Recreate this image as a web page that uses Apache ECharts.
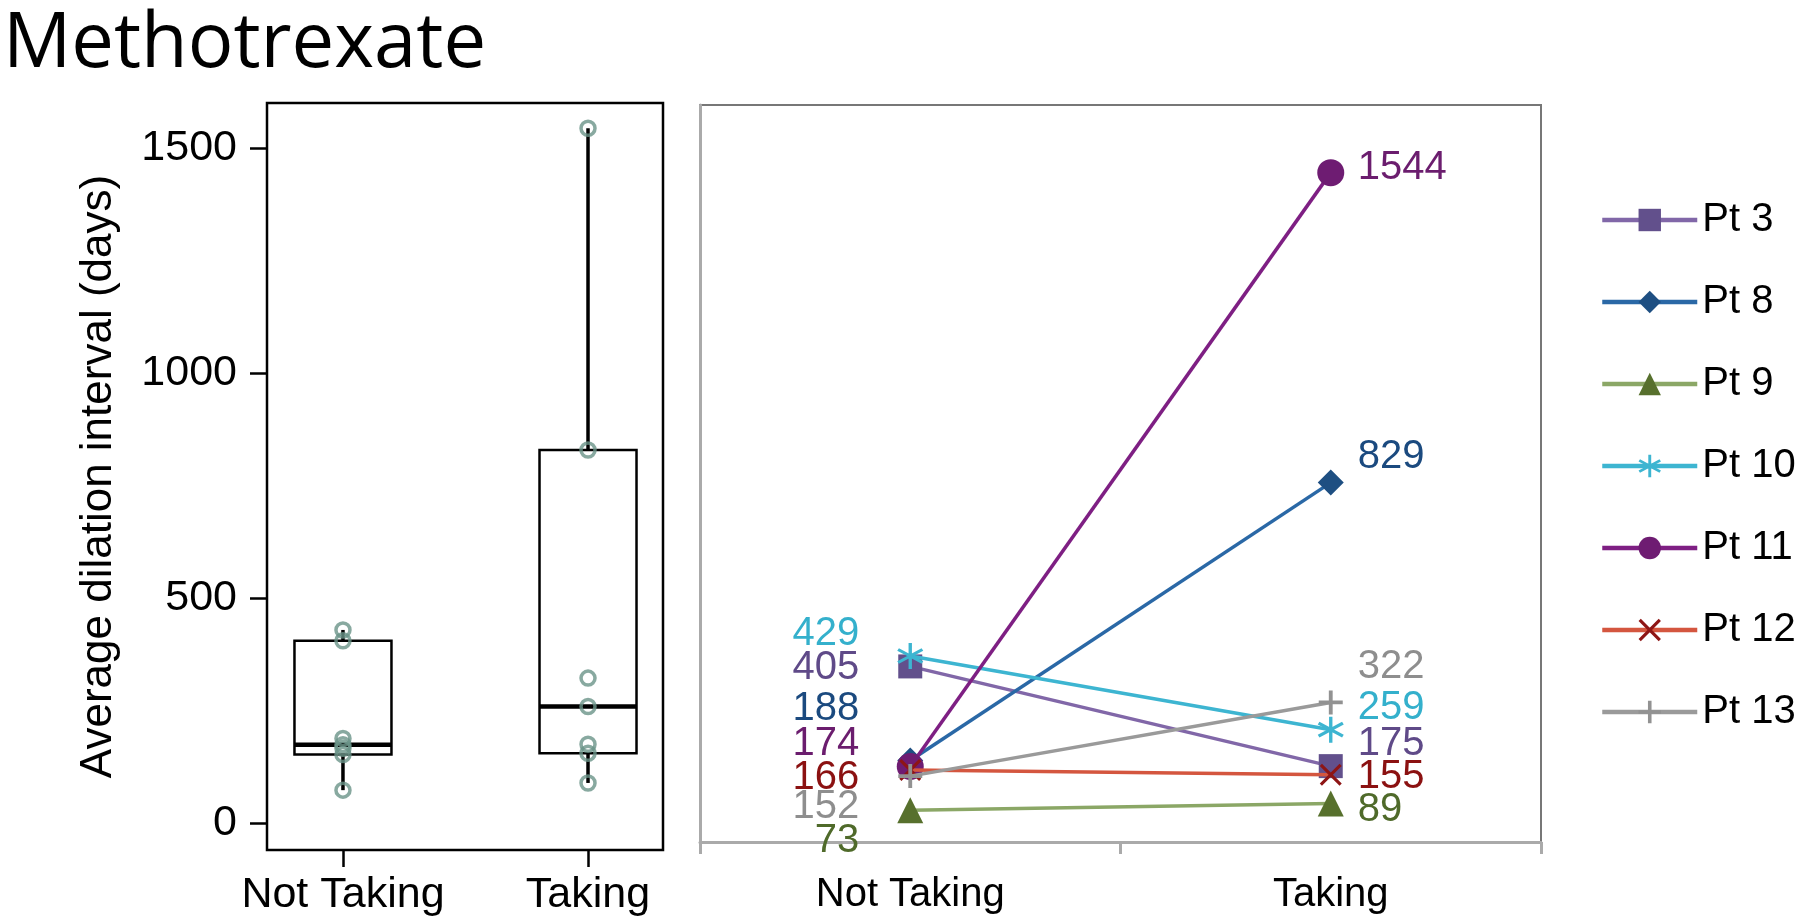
<!DOCTYPE html>
<html>
<head>
<meta charset="utf-8">
<script src="https://cdn.jsdelivr.net/npm/echarts@6/dist/echarts.min.js"></script>
<style>
html,body{margin:0;padding:0;background:#fff;}
#chart{width:1800px;height:924px;}
</style>
</head>
<body>
<div id="chart"></div>
<script>
// ---------- data ----------
const chartTitle = 'Methotrexate';
const categories = ['Not Taking', 'Taking'];
const patients = ['Pt 3', 'Pt 8', 'Pt 9', 'Pt 10', 'Pt 11', 'Pt 12', 'Pt 13'];
const notTakingValues = [405, 188, 73, 429, 174, 166, 152];
const takingValues = [175, 829, 89, 259, 1544, 155, 322];
// box plot summary (per category)
const boxMin = [73, 89];
const boxQ1 = [152, 155];
const boxMedian = [174, 259];
const boxQ3 = [405, 829];
const boxMax = [429, 1544];
const leftTickValues = [0, 500, 1000, 1500];
const yAxisTitle = 'Average dilation interval (days)';

// ---------- styles ----------
const lineColors = ['#8167a8', '#2a68a6', '#8ba766', '#3db5d1', '#7e1f83', '#d4563f', '#9a9a9a'];
const markerColors = ['#62508c', '#1e4f82', '#57702d', '#3db5d1', '#6e1c72', '#8e1515', '#929292'];
const labelColors = ['#5f4a88', '#1b4a7f', '#4f6a2a', '#34b0cc', '#6b1d6e', '#8b1111', '#8e8e8e'];
const pathX = 'path://M10,0 L50,40 L90,0 L100,10 L60,50 L100,90 L90,100 L50,60 L10,100 L0,90 L40,50 L0,10 Z';
const pathPlus = 'path://M42,0 L58,0 L58,42 L100,42 L100,58 L58,58 L58,100 L42,100 L42,58 L0,58 L0,42 L42,42 Z';
const pathStar = 'path://M44,100 L56,100 L56,0 L44,0 Z M90.3,80.2 L96.3,69.8 L9.7,19.8 L3.7,30.2 Z M3.7,69.8 L9.7,80.2 L96.3,30.2 L90.3,19.8 Z';
const symbols = ['rect', 'diamond', 'triangle', pathStar, 'circle', pathX, pathPlus];
const symbolSizes = [24, 26, 26, 26, 27, 22, 24];
const nudgeNot = [2, -52, 31, -22, -23, 8, 31];
const nudgeTak = [-22, -26, 7, -22, -5, 2, -35];

const FONT = 'Liberation Sans';

// ---------- build ----------
const boxData = categories.map((c, i) => [i + 1, boxMin[i], boxQ1[i], boxMedian[i], boxQ3[i], boxMax[i]]);
const pointData = [];
notTakingValues.forEach(v => pointData.push([1, v]));
takingValues.forEach(v => pointData.push([2, v]));

const lineSeries = patients.map((p, i) => ({
  name: p,
  type: 'line',
  xAxisIndex: 1,
  yAxisIndex: 1,
  symbol: symbols[i],
  symbolSize: symbolSizes[i],
  showSymbol: true,
  lineStyle: { color: lineColors[i], width: 3.5 },
  itemStyle: { color: markerColors[i] },
  emphasis: { disabled: true },
  data: [
    {
      value: notTakingValues[i],
      label: {
        show: true, position: 'inside', align: 'right', verticalAlign: 'middle',
        offset: [-51, nudgeNot[i]]
      }
    },
    {
      value: takingValues[i],
      label: {
        show: true, position: 'inside', align: 'left', verticalAlign: 'middle',
        offset: [27, nudgeTak[i]]
      }
    }
  ],
  label: {
    show: true,
    color: labelColors[i],
    fontFamily: FONT,
    fontSize: 40,
    formatter: (d) => String(d.value)
  },
  z: 3 + i
}));

const option = {
  animation: false,
  backgroundColor: '#ffffff',
  title: {
    text: chartTitle,
    left: -2,
    top: 2,
    textStyle: { fontFamily: 'Open Sans', fontSize: 76, fontWeight: 'normal', color: '#000' }
  },
  legend: {
    orient: 'vertical',
    left: 1595,
    top: 195,
    itemWidth: 95,
    itemHeight: 28,
    itemGap: 42,
    selectedMode: false,
    data: patients,
    lineStyle: { width: 4.5 },
    textStyle: { fontFamily: FONT, fontSize: 40, color: '#000', lineHeight: 40 }
  },
  grid: [
    { left: 267, right: 1800 - 663, top: 103, bottom: 924 - 850, show: true, borderColor: '#000', borderWidth: 2.5, backgroundColor: 'transparent' },
    { left: 700, right: 1800 - 1541, top: 105, bottom: 924 - 842, show: true, borderColor: '#777', borderWidth: 2, backgroundColor: 'transparent' }
  ],
  xAxis: [
    {
      gridIndex: 0, type: 'value', min: 0.69, max: 2.306,
      axisLine: { show: false, onZero: false },
      splitLine: { show: false },
      axisTick: { show: true, customValues: [1, 2], length: 17, lineStyle: { color: '#000', width: 2.5 } },
      axisLabel: {
        customValues: [1, 2], formatter: (v) => categories[Math.round(v) - 1],
        fontFamily: FONT, fontSize: 43, color: '#000', margin: 24
      }
    },
    {
      gridIndex: 1, type: 'category', data: categories, boundaryGap: true,
      axisLine: { show: true, onZero: false, lineStyle: { color: '#aaa', width: 3 } },
      axisTick: { show: true, alignWithLabel: false, length: 12, lineStyle: { color: '#aaa', width: 3 } },
      axisLabel: { fontFamily: FONT, fontSize: 40, color: '#000', margin: 33 },
      splitLine: { show: false }
    }
  ],
  yAxis: [
    {
      gridIndex: 0, type: 'value', min: -60, max: 1600,
      axisLine: { show: false, onZero: false },
      splitLine: { show: false },
      axisTick: { show: true, customValues: leftTickValues, length: 17, lineStyle: { color: '#000', width: 2.5 } },
      axisLabel: { customValues: leftTickValues, formatter: (v) => String(v), fontFamily: FONT, fontSize: 43, color: '#000', margin: 30 },
      name: yAxisTitle,
      nameLocation: 'middle',
      nameGap: 146,
      nameTextStyle: { fontFamily: FONT, fontSize: 44, color: '#000' }
    },
    {
      gridIndex: 1, type: 'value', min: 0, max: 1700,
      axisLine: { show: true, onZero: false, lineStyle: { color: '#aaa', width: 3 } },
      axisTick: { show: false },
      axisLabel: { show: false },
      splitLine: { show: false }
    }
  ],
  series: [
    {
      type: 'custom',
      xAxisIndex: 0, yAxisIndex: 0,
      data: boxData,
      encode: { x: 0, y: [1, 2, 3, 4, 5] },
      z: 2,
      renderItem: function (params, api) {
        const x = api.value(0);
        const pMin = api.coord([x, api.value(1)]);
        const pQ1 = api.coord([x, api.value(2)]);
        const pMed = api.coord([x, api.value(3)]);
        const pQ3 = api.coord([x, api.value(4)]);
        const pMax = api.coord([x, api.value(5)]);
        const half = 48.5;
        const cx = pQ1[0];
        return {
          type: 'group',
          children: [
            { type: 'line', shape: { x1: cx, y1: pQ3[1], x2: cx, y2: pMax[1] }, style: { stroke: '#000', lineWidth: 3.5 } },
            { type: 'line', shape: { x1: cx, y1: pQ1[1], x2: cx, y2: pMin[1] }, style: { stroke: '#000', lineWidth: 3.5 } },
            { type: 'rect', shape: { x: cx - half, y: pQ3[1], width: half * 2, height: pQ1[1] - pQ3[1] }, style: { fill: 'none', stroke: '#000', lineWidth: 2.5 } },
            { type: 'line', shape: { x1: cx - half, y1: pMed[1], x2: cx + half, y2: pMed[1] }, style: { stroke: '#000', lineWidth: 4.5 } }
          ]
        };
      }
    },
    {
      type: 'scatter',
      xAxisIndex: 0, yAxisIndex: 0,
      data: pointData,
      symbol: 'circle',
      symbolSize: 14,
      itemStyle: { color: 'rgba(255,255,255,0)', borderColor: '#6a9488', borderWidth: 3.5 },
      emphasis: { disabled: true },
      z: 3
    }
  ].concat(lineSeries)
};

const chart = echarts.init(document.getElementById('chart'), null, { renderer: 'canvas' });
chart.setOption(option);
</script>
</body>
</html>
